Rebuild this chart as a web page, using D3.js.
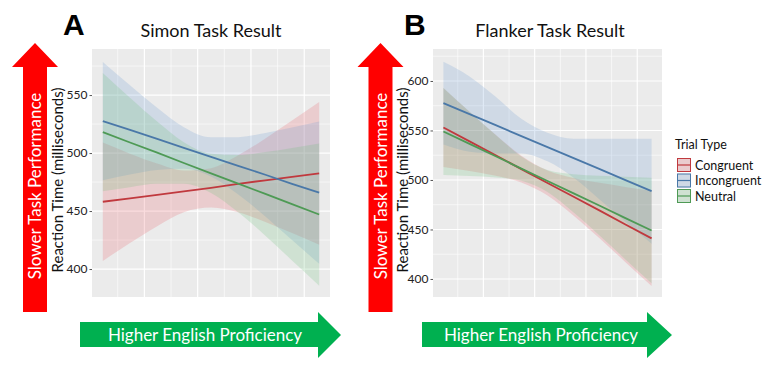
<!DOCTYPE html>
<html><head><meta charset="utf-8">
<script src="https://cdn.jsdelivr.net/npm/d3@7"></script>
<style>body{margin:0;background:#fff;} svg{display:block;}</style>
</head><body>
<svg id="chart" width="765" height="367"></svg>
<script>
// ---------- DATA ----------
const trialTypes = ["Congruent", "Incongruent", "Neutral"];
const proficiency = [1.22, 1.73, 2.24, 2.74, 3.25, 3.76, 4.27, 4.77, 5.28];

const simonCongruentFit   = [458, 461, 464, 467, 470, 473.5, 476.5, 479.5, 482.5];
const simonCongruentLow   = [407, 422.5, 437, 449, 453, 449, 440.5, 431, 421];
const simonCongruentHigh  = [509, 499.5, 491, 485, 487, 498, 512.5, 528, 544];
const simonIncongruentFit = [527.6, 519.9, 512.2, 504.4, 496.7, 489, 481.3, 473.5, 465.8];
const simonIncongruentLow = [476.6, 481.4, 485.4, 486.5, 479.8, 464.3, 445.3, 425, 404.5];
const simonIncongruentHigh= [578.6, 558.4, 539, 522.3, 513.6, 513.7, 517.3, 522, 527.1];
const simonNeutralFit     = [518, 509.1, 500.3, 491.4, 482.5, 473.6, 464.8, 455.9, 447];
const simonNeutralLow     = [467, 470.6, 473.5, 473.5, 465.6, 448.9, 428.8, 407.4, 385.7];
const simonNeutralHigh    = [569, 547.6, 527.1, 509.3, 499.4, 498.3, 500.8, 504.4, 508.3];

const flankerCongruentFit   = [553, 539, 525, 511, 497, 483, 469, 455, 441];
const flankerCongruentLow   = [513, 509, 504.2, 497.4, 484.3, 463.9, 440.9, 417, 392.8];
const flankerCongruentHigh  = [593, 569, 545.8, 524.6, 509.7, 502.1, 497.1, 493, 489.2];
const flankerIncongruentFit = [577.6, 566.5, 555.4, 544.3, 533.2, 522, 510.9, 499.8, 488.7];
const flankerIncongruentLow = [535.8, 528.5, 526.8, 526.8, 518.8, 502.3, 480.1, 457.9, 435.7];
const flankerIncongruentHigh= [619.4, 604.5, 584, 561.8, 547.6, 541.7, 541.7, 541.7, 541.7];
const flankerNeutralFit     = [549, 536.5, 524, 511.5, 499, 486.5, 474, 461.5, 449];
const flankerNeutralLow     = [505, 504, 502.5, 499.2, 487.9, 467.1, 443.7, 419.8, 395.7];
const flankerNeutralHigh    = [593, 569, 545.5, 523.8, 510.1, 505.9, 504.3, 503.2, 502.3];

const simonYTicks = [400, 450, 500, 550];
const flankerYTicks = [400, 450, 500, 550, 600];
const simonYDomain = [375.9, 589.7];
const flankerYDomain = [381.8, 632.3];
const xDomain = [1.017, 5.483];
const xMajor = [2, 3, 4, 5];
const xMinor = [1.5, 2.5, 3.5, 4.5];

// ---------- STYLE ----------
const lineColors = {Congruent: "#C0393E", Incongruent: "#4A78A8", Neutral: "#4E9A55"};
const fillColors = {Congruent: "#E8606A", Incongruent: "#6F9BD1", Neutral: "#6CC07A"};
const FONT = "Lato, 'Open Sans', sans-serif";

const svg = d3.select("#chart");
svg.append("rect").attr("width", 765).attr("height", 367).attr("fill", "#fff");

function panel(cfg) {
  const g = svg.append("g");
  const x = d3.scaleLinear().domain(xDomain).range([cfg.left, cfg.right]);
  const y = d3.scaleLinear().domain(cfg.yDomain).range([cfg.bottom, cfg.top]);
  g.append("rect").attr("x", cfg.left).attr("y", cfg.top)
    .attr("width", cfg.right - cfg.left).attr("height", cfg.bottom - cfg.top).attr("fill", "#EBEBEB");
  const minorY = d3.range(Math.ceil(cfg.yDomain[0] / 25) * 25, cfg.yDomain[1], 25).filter(v => v % 50 !== 0);
  g.selectAll(".ymin").data(minorY).join("line")
    .attr("x1", cfg.left).attr("x2", cfg.right).attr("y1", d => y(d)).attr("y2", d => y(d))
    .attr("stroke", "#fff").attr("stroke-width", 0.6);
  g.selectAll(".xmin").data(xMinor).join("line")
    .attr("y1", cfg.top).attr("y2", cfg.bottom).attr("x1", d => x(d)).attr("x2", d => x(d))
    .attr("stroke", "#fff").attr("stroke-width", 0.6);
  g.selectAll(".ymaj").data(cfg.yTicks).join("line")
    .attr("x1", cfg.left).attr("x2", cfg.right).attr("y1", d => y(d)).attr("y2", d => y(d))
    .attr("stroke", "#fff").attr("stroke-width", 1.2);
  g.selectAll(".xmaj").data(xMajor).join("line")
    .attr("y1", cfg.top).attr("y2", cfg.bottom).attr("x1", d => x(d)).attr("x2", d => x(d))
    .attr("stroke", "#fff").attr("stroke-width", 1.2);

  const area = d3.area().x((d, i) => x(proficiency[i])).y0(d => y(d[0])).y1(d => y(d[1])).curve(d3.curveMonotoneX);
  const line = d3.line().x((d, i) => x(proficiency[i])).y(d => y(d));
  trialTypes.forEach(t => {
    const s = cfg.series[t];
    g.append("path").datum(s.low.map((v, i) => [v, s.high[i]])).attr("d", area)
      .attr("fill", fillColors[t]).attr("fill-opacity", 0.22);
  });
  trialTypes.forEach(t => {
    const s = cfg.series[t];
    g.append("path").datum(s.fit).attr("d", line).attr("fill", "none")
      .attr("stroke", lineColors[t]).attr("stroke-width", 1.8);
  });

  const ax = g.append("g").attr("transform", `translate(${cfg.left},0)`)
    .call(d3.axisLeft(y).tickValues(cfg.yTicks).tickSize(2.5).tickPadding(2));
  ax.select(".domain").remove();
  ax.selectAll("line").attr("stroke", "#555");
  ax.selectAll("text").attr("font-family", FONT).attr("font-size", 12).attr("fill", "#222");

  g.append("text").attr("transform", `translate(${cfg.ytitleX},${(cfg.top + cfg.bottom) / 2 + 7}) rotate(-90)`)
    .attr("text-anchor", "middle").attr("font-family", FONT).attr("font-size", 15).attr("fill", "#111")
    .text("Reaction Time (milliseconds)");
  g.append("text").attr("x", cfg.titleX).attr("y", 37).attr("text-anchor", "middle")
    .attr("font-family", FONT).attr("font-size", 18).attr("fill", "#111").text(cfg.title);
  g.append("text").attr("x", cfg.letterX).attr("y", 35).attr("font-family", "'Liberation Sans', Arial, sans-serif")
    .attr("font-weight", "bold").attr("font-size", 30).attr("fill", "#000").text(cfg.letter);

  // red vertical arrow
  const rc = cfg.redX;
  g.append("path").attr("d", `M${rc},43 L${rc + 23},67 L${rc + 12},67 L${rc + 12},312 L${rc - 12},312 L${rc - 12},67 L${rc - 23},67 Z`)
    .attr("fill", "#FF0000");
  g.append("text").attr("transform", `translate(${rc + 6},186) rotate(-90)`).attr("text-anchor", "middle")
    .attr("font-family", FONT).attr("font-size", 17).attr("fill", "#fff").text("Slower Task Performance");
  // green horizontal arrow
  const gx0 = cfg.greenX0, gx1 = cfg.greenX1, gt = cfg.greenTip;
  g.append("path").attr("d", `M${gx0},322 L${gx1},322 L${gx1},312 L${gt},335 L${gx1},358 L${gx1},347 L${gx0},347 Z`)
    .attr("fill", "#00B050");
  g.append("text").attr("x", cfg.greenTextX).attr("y", 341).attr("text-anchor", "middle")
    .attr("font-family", FONT).attr("font-size", 17).attr("fill", "#fff").text("Higher English Proficiency");
}

panel({
  left: 92, right: 330, top: 49, bottom: 297, yDomain: simonYDomain, yTicks: simonYTicks,
  title: "Simon Task Result", titleX: 211, letter: "A", letterX: 63, ytitleX: 63,
  redX: 35, greenX0: 80, greenX1: 318, greenTip: 341, greenTextX: 205,
  series: {
    Congruent: {fit: simonCongruentFit, low: simonCongruentLow, high: simonCongruentHigh},
    Incongruent: {fit: simonIncongruentFit, low: simonIncongruentLow, high: simonIncongruentHigh},
    Neutral: {fit: simonNeutralFit, low: simonNeutralLow, high: simonNeutralHigh}
  }
});
panel({
  left: 433, right: 662, top: 49, bottom: 297, yDomain: flankerYDomain, yTicks: flankerYTicks,
  title: "Flanker Task Result", titleX: 550, letter: "B", letterX: 404, ytitleX: 408,
  redX: 380.5, greenX0: 422, greenX1: 647, greenTip: 672, greenTextX: 541,
  series: {
    Congruent: {fit: flankerCongruentFit, low: flankerCongruentLow, high: flankerCongruentHigh},
    Incongruent: {fit: flankerIncongruentFit, low: flankerIncongruentLow, high: flankerIncongruentHigh},
    Neutral: {fit: flankerNeutralFit, low: flankerNeutralLow, high: flankerNeutralHigh}
  }
});

// legend
const lg = svg.append("g");
lg.append("text").attr("x", 675).attr("y", 149).attr("font-family", FONT).attr("font-size", 12.5)
  .attr("fill", "#111").text("Trial Type");
trialTypes.forEach((t, i) => {
  const cy = 165 + i * 15.5;
  lg.append("rect").attr("x", 677).attr("y", cy - 7).attr("width", 14).attr("height", 14).attr("fill", "#EBEBEB");
  lg.append("rect").attr("x", 677.5).attr("y", cy - 6.5).attr("width", 13).attr("height", 13)
    .attr("fill", fillColors[t]).attr("fill-opacity", 0.22).attr("stroke", lineColors[t]).attr("stroke-width", 1);
  lg.append("line").attr("x1", 677.5).attr("x2", 690.5).attr("y1", cy).attr("y2", cy)
    .attr("stroke", lineColors[t]).attr("stroke-width", 1.2);
  lg.append("text").attr("x", 695).attr("y", cy + 4.5).attr("font-family", FONT).attr("font-size", 12.5)
    .attr("fill", "#111").text(t);
});
</script>
</body></html>
